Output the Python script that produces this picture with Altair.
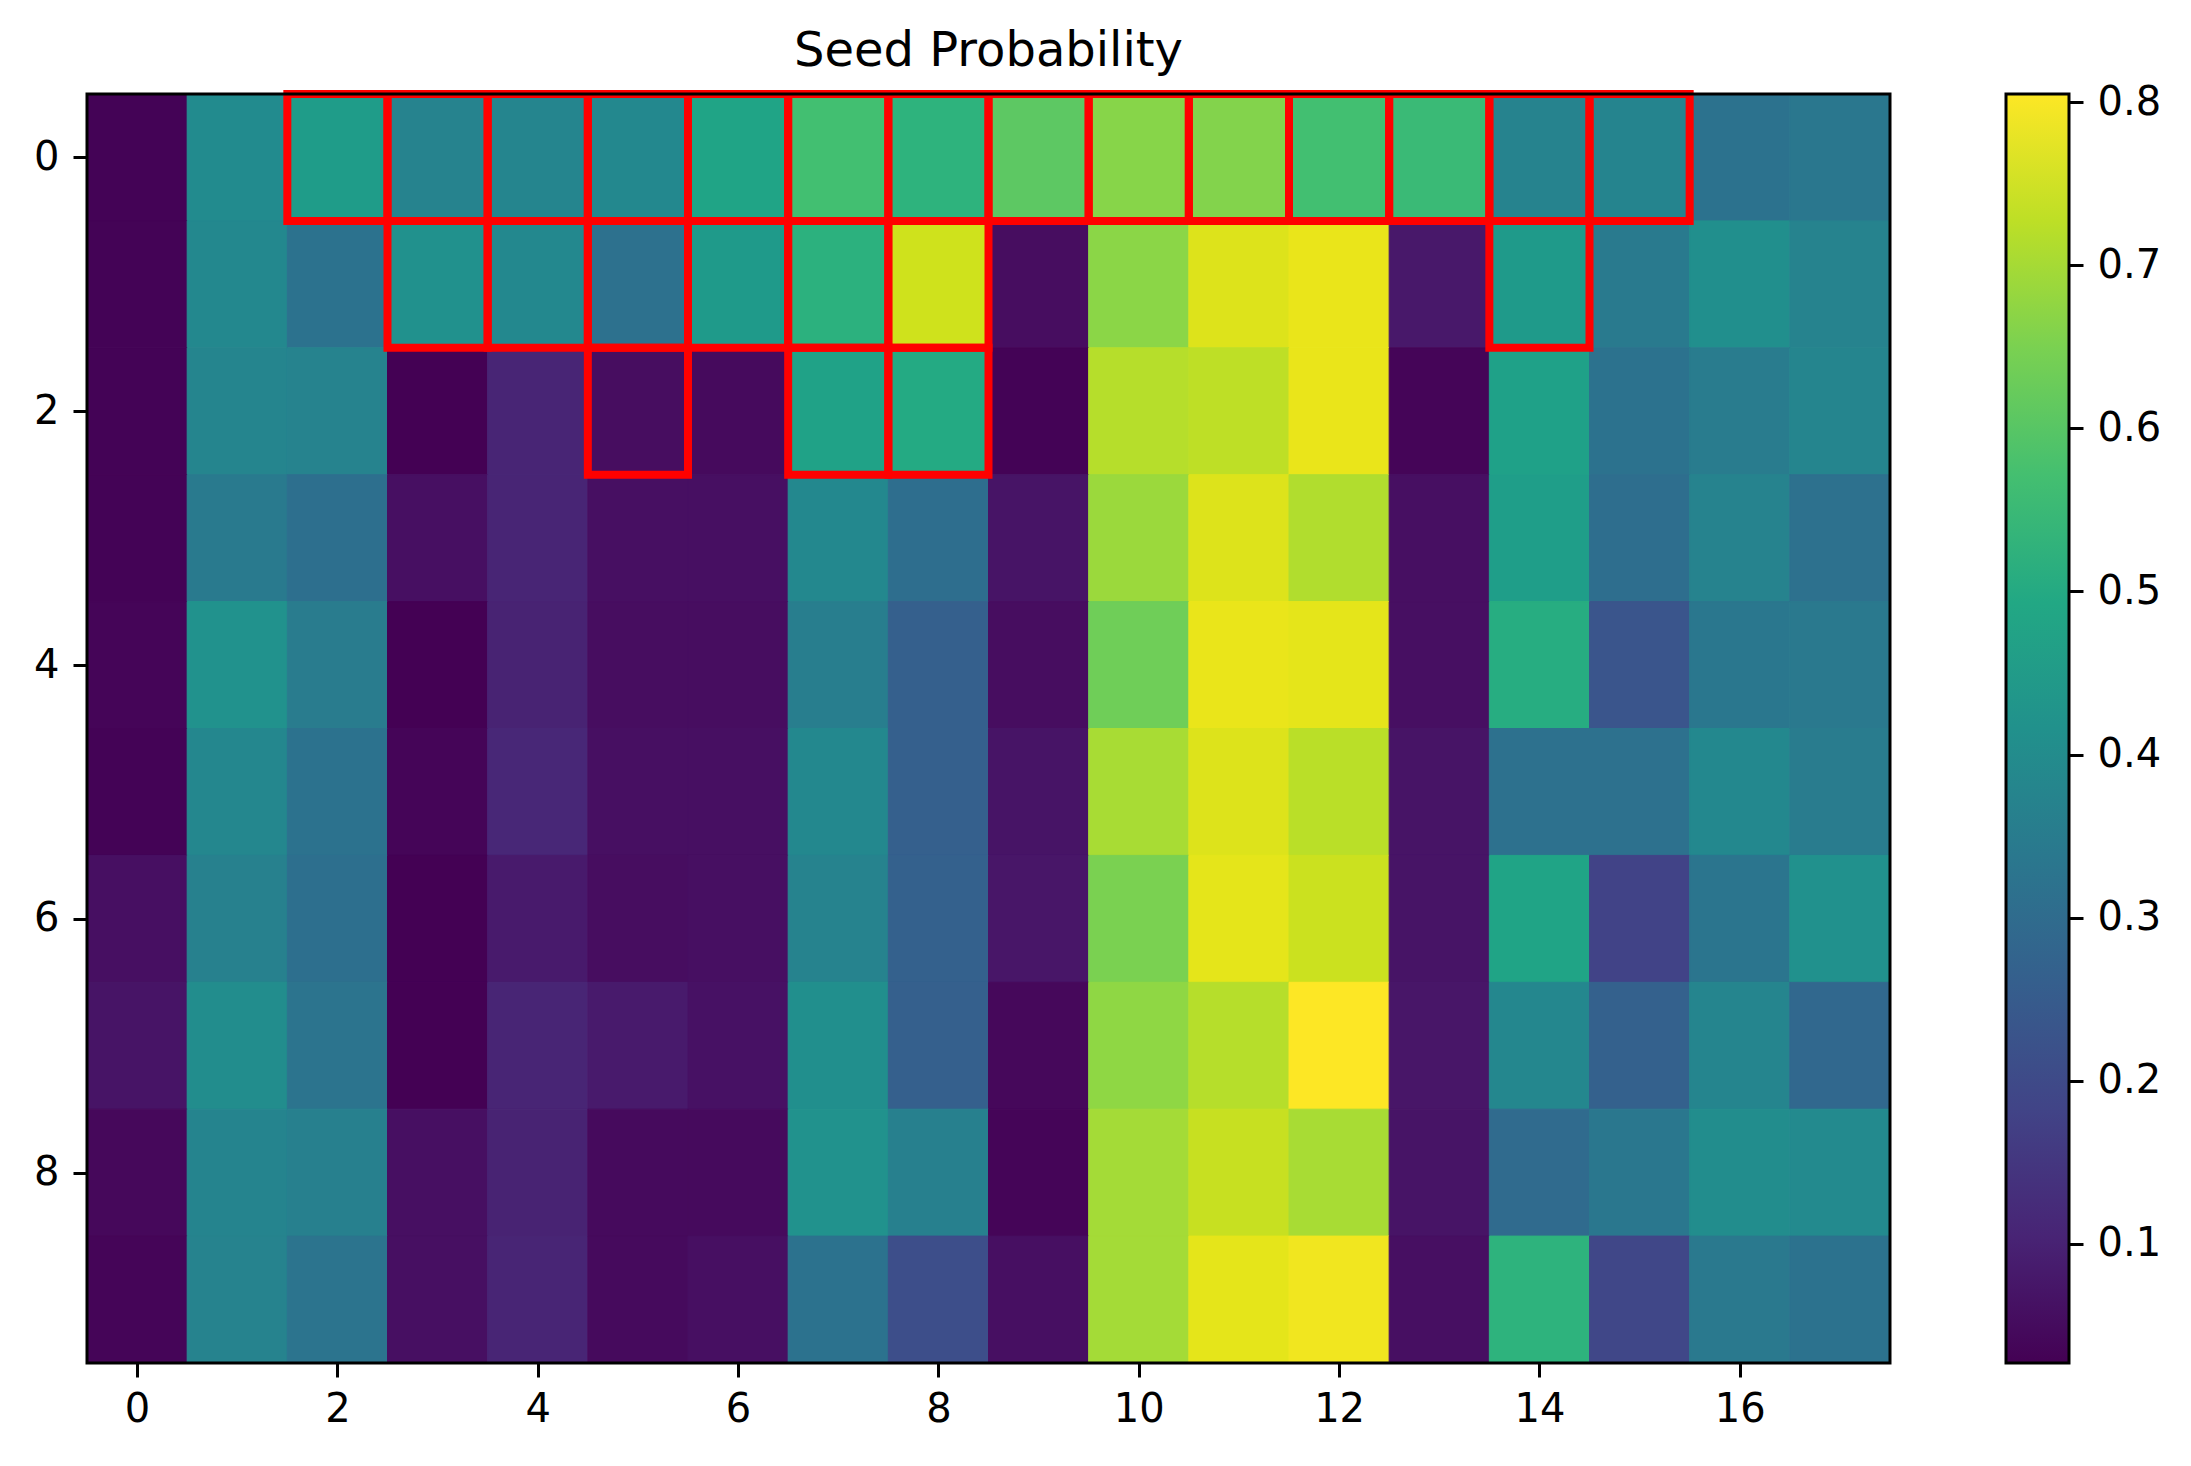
import altair as alt
import pandas as pd

# Cell values (rows 0..9, columns 0..17)
ROW_0 = [0.030, 0.400, 0.455, 0.370, 0.380, 0.390, 0.480, 0.570, 0.530, 0.610, 0.665, 0.660, 0.570, 0.555, 0.370, 0.375, 0.320, 0.335]
ROW_1 = [0.030, 0.390, 0.320, 0.415, 0.390, 0.315, 0.450, 0.525, 0.750, 0.050, 0.670, 0.765, 0.780, 0.075, 0.450, 0.345, 0.410, 0.370]
ROW_2 = [0.030, 0.380, 0.370, 0.027, 0.105, 0.050, 0.045, 0.475, 0.500, 0.030, 0.720, 0.730, 0.780, 0.035, 0.470, 0.320, 0.350, 0.380]
ROW_3 = [0.030, 0.345, 0.310, 0.055, 0.105, 0.055, 0.055, 0.390, 0.305, 0.065, 0.690, 0.765, 0.715, 0.055, 0.460, 0.305, 0.370, 0.315]
ROW_4 = [0.035, 0.420, 0.350, 0.027, 0.100, 0.050, 0.050, 0.355, 0.260, 0.050, 0.635, 0.780, 0.775, 0.055, 0.510, 0.230, 0.335, 0.340]
ROW_5 = [0.030, 0.385, 0.320, 0.035, 0.110, 0.055, 0.055, 0.390, 0.260, 0.065, 0.705, 0.765, 0.725, 0.065, 0.315, 0.315, 0.390, 0.350]
ROW_6 = [0.055, 0.365, 0.310, 0.027, 0.080, 0.050, 0.055, 0.370, 0.265, 0.070, 0.650, 0.775, 0.745, 0.065, 0.480, 0.180, 0.330, 0.415]
ROW_7 = [0.065, 0.405, 0.325, 0.027, 0.105, 0.080, 0.060, 0.410, 0.260, 0.040, 0.675, 0.720, 0.805, 0.070, 0.385, 0.265, 0.380, 0.285]
ROW_8 = [0.040, 0.375, 0.360, 0.055, 0.100, 0.045, 0.045, 0.420, 0.360, 0.035, 0.700, 0.740, 0.705, 0.065, 0.295, 0.335, 0.405, 0.395]
ROW_9 = [0.035, 0.370, 0.325, 0.055, 0.105, 0.045, 0.055, 0.320, 0.210, 0.055, 0.700, 0.775, 0.790, 0.055, 0.530, 0.190, 0.340, 0.320]
ROWS = [ROW_0, ROW_1, ROW_2, ROW_3, ROW_4, ROW_5, ROW_6, ROW_7, ROW_8, ROW_9]

# Seed cells outlined in red: (row, col)
SEED_CELLS = [(0, c) for c in range(2, 16)] + \
             [(1, 3), (1, 4), (1, 5), (1, 6), (1, 7), (1, 8), (1, 14)] + \
             [(2, 5), (2, 7), (2, 8)]

X_TICKS = [0, 2, 4, 6, 8, 10, 12, 14, 16]
Y_TICKS = [0, 2, 4, 6, 8]
CB_MIN, CB_MAX = 0.027, 0.805
CB_TICKS = [0.1, 0.2, 0.3, 0.4, 0.5, 0.6, 0.7, 0.8]
VIRIDIS = ["#440154", "#482475", "#414487", "#355f8d", "#2a788e", "#21918c",
           "#22a884", "#44bf70", "#7ad151", "#bddf26", "#fde725"]

records = []
for r, row in enumerate(ROWS):
    for c, v in enumerate(row):
        records.append({"row": r, "col": c, "value": v})
df = pd.DataFrame(records)
df["x0"] = df["col"] - 0.5
df["x1"] = df["col"] + 0.5
df["y0"] = df["row"] - 0.5
df["y1"] = df["row"] + 0.5

seed = pd.DataFrame([{"row": r, "col": c} for r, c in SEED_CELLS])
seed["x0"] = seed["col"] - 0.5
seed["x1"] = seed["col"] + 0.5
seed["y0"] = seed["row"] - 0.5
seed["y1"] = seed["row"] + 0.5

FONT = "DejaVu Sans"
W, H = 1803, 1269
TICK_FS = 40

xscale = alt.Scale(domain=[-0.5, 17.5], nice=False, zero=False)
yscale = alt.Scale(domain=[-0.5, 9.5], nice=False, zero=False, reverse=True)
xaxis = alt.Axis(values=X_TICKS, format="d", title=None, grid=False, domain=False, tickSize=14, tickWidth=3,
                 tickColor="black", labelFontSize=TICK_FS, labelFont=FONT, labelColor="black", labelPadding=12)
yaxis = alt.Axis(values=Y_TICKS, format="d", title=None, grid=False, domain=False, tickSize=14, tickWidth=3,
                 tickColor="black", labelFontSize=TICK_FS, labelFont=FONT, labelColor="black", labelPadding=14)

cscale = alt.Scale(scheme="viridis", domain=[CB_MIN, CB_MAX])
heat = alt.Chart(df).mark_rect(strokeWidth=1).encode(
    x=alt.X("x0:Q", scale=xscale, axis=xaxis),
    x2="x1:Q",
    y=alt.Y("y0:Q", scale=yscale, axis=yaxis),
    y2="y1:Q",
    color=alt.Color("value:Q", scale=cscale, legend=None),
    stroke=alt.Stroke("value:Q", scale=cscale, legend=None),
)

outline = alt.Chart(seed).mark_rect(fill=None, stroke="#ff0000", strokeWidth=8).encode(
    x=alt.X("x0:Q", scale=xscale),
    x2="x1:Q",
    y=alt.Y("y0:Q", scale=yscale),
    y2="y1:Q",
)

frame = alt.Chart(pd.DataFrame([{"k": 0}])).mark_rect(fill=None, stroke="black", strokeWidth=3).encode(
    x=alt.value(0), x2=alt.value(W), y=alt.value(0), y2=alt.value(H),
)

main = alt.layer(heat, outline, frame).properties(
    width=W, height=H,
    title=alt.TitleParams("Seed Probability", fontSize=48, font=FONT, fontWeight="normal",
                          color="black", offset=14, anchor="middle"),
)

cb_df = pd.DataFrame([{"lo": CB_MIN, "hi": CB_MAX}])
n = len(VIRIDIS) - 1
grad = alt.Gradient(
    gradient="linear",
    stops=[alt.GradientStop(color=col, offset=i / n) for i, col in enumerate(VIRIDIS)],
    x1=0, x2=0, y1=1, y2=0,
)
colorbar = alt.Chart(cb_df).mark_rect(fill=grad, stroke="black", strokeWidth=3).encode(
    y=alt.Y("lo:Q", scale=alt.Scale(domain=[CB_MIN, CB_MAX], nice=False, zero=False),
            axis=alt.Axis(orient="right", values=CB_TICKS, format=".1f", title=None, grid=False,
                          domain=False, tickSize=14, tickWidth=3, tickColor="black",
                          labelFontSize=TICK_FS, labelFont=FONT, labelColor="black", labelPadding=14)),
    y2="hi:Q",
).properties(width=63, height=H)

chart = alt.hconcat(main, colorbar, spacing=112).properties(
    padding={"left": 25, "top": 19, "right": 10, "bottom": 10},
).configure_view(stroke=None).configure(background="white")

chart.save("out.html", embed_options={"renderer": "svg", "actions": False})
